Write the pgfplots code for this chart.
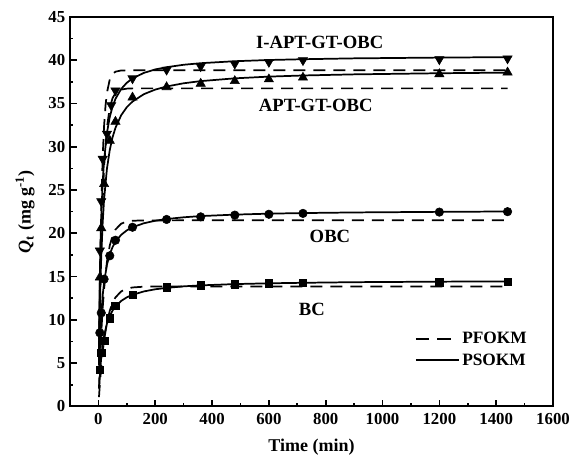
\documentclass[border=0pt]{standalone}
\usepackage{pgfplots}
\pgfplotsset{compat=1.18}
\usepackage{fontspec}
\setmainfont{Liberation Serif}
\begin{document}
\begin{tikzpicture}
\begin{axis}[
  scale only axis,
  width=362.25pt, height=292pt,
  xmin=-100, xmax=1600, ymin=0, ymax=45,
  xtick={0,200,...,1600}, ytick={0,5,...,45},
  minor x tick num=1, minor y tick num=1,
  tick align=inside, xtick pos=bottom, ytick pos=left,
  major tick length=5pt, minor tick length=2.5pt,
  axis line style={line width=1.4pt},
  every tick/.style={line width=1.2pt, black},
  /pgf/number format/assume math mode=true,
  /pgf/number format/set thousands separator={},
  ticklabel style={font=\fontsize{12.6}{14}\selectfont\bfseries},
  xticklabel style={yshift=-2pt},
  xlabel={\fontsize{13.5}{15}\selectfont\bfseries Time (min)},
  ylabel={\fontsize{13.5}{15}\selectfont\bfseries\textit{Q}\textsubscript{t} (mg g\textsuperscript{-1})},
  ylabel style={at={(axis description cs:-0.093,0.5)}, anchor=center},
  xlabel style={at={(axis description cs:0.5,-0.104)}, anchor=center},
  legend style={draw=none, fill=none, at={(0.96,0.205)}, anchor=north east,
    font=\fontsize{13}{15}\selectfont\bfseries, row sep=2pt},
  legend cell align=left,
  legend image code/.code={\draw[#1] (0pt,0pt) -- (32pt,0pt);},
  clip=false,
]
\addlegendimage{black, line width=1.4pt, dash pattern=on 10pt off 6pt}
\addlegendentry{PFOKM}
\addlegendimage{black, line width=1.4pt}
\addlegendentry{PSOKM}

% ---- PFOKM (dashed) ----
\addplot[black, line width=1.3pt, dash pattern=on 9pt off 6pt, forget plot] coordinates {
(2,6.40)(5,14.08)(10,23.05)(15,28.78)(20,32.43)(25,34.75)(30,36.24)(40,37.79)(50,38.42)(60,38.68)(80,38.82)(120,38.85)(400,38.85)(800,38.85)(1440,38.85)};
\addplot[black, line width=1.3pt, dash pattern=on 9pt off 6pt, forget plot] coordinates {
(2,4.80)(5,10.85)(10,18.50)(15,23.89)(20,27.69)(30,32.25)(40,34.52)(50,35.64)(60,36.20)(80,36.61)(100,36.72)(120,36.75)(400,36.75)(800,36.75)(1440,36.75)};
\addplot[black, line width=1.3pt, dash pattern=on 9pt off 6pt, forget plot] coordinates {
(2,2.05)(5,4.76)(10,8.46)(15,11.34)(20,13.59)(30,16.70)(40,18.59)(50,19.74)(60,20.43)(80,21.11)(100,21.36)(120,21.45)(160,21.49)(400,21.5)(800,21.5)(1440,21.5)};
\addplot[black, line width=1.3pt, dash pattern=on 9pt off 6pt, forget plot] coordinates {
(2,1.07)(5,2.51)(10,4.57)(15,6.25)(20,7.63)(30,9.68)(40,11.05)(50,11.98)(60,12.59)(80,13.28)(100,13.60)(120,13.74)(160,13.83)(200,13.85)(600,13.85)(1000,13.85)(1440,13.85)};

% ---- PSOKM (solid) ----
\addplot[black, line width=1.3pt, forget plot] coordinates {
(2,7.70)(4,12.94)(6,16.75)(8,19.63)(10,21.89)(15,25.86)(20,28.44)(30,31.60)(40,33.45)(50,34.67)(60,35.54)(80,36.68)(100,37.40)(120,37.90)(160,38.54)(200,38.94)(240,39.20)(300,39.48)(360,39.66)(480,39.89)(600,40.03)(720,40.12)(900,40.22)(1200,40.31)(1440,40.36)};
\addplot[black, line width=1.3pt, forget plot] coordinates {
(2,5.37)(4,9.43)(6,12.62)(8,15.18)(10,17.29)(15,21.22)(20,23.94)(30,27.46)(40,29.64)(50,31.12)(60,32.19)(80,33.64)(100,34.58)(120,35.23)(160,36.08)(200,36.61)(240,36.97)(300,37.34)(360,37.59)(480,37.91)(600,38.11)(720,38.24)(900,38.37)(1200,38.50)(1440,38.57)};
\addplot[black, line width=1.3pt, forget plot] coordinates {
(3,4.66)(4,5.81)(6,7.73)(8,9.25)(10,10.50)(15,12.79)(20,14.35)(30,16.36)(40,17.59)(50,18.42)(60,19.02)(80,19.82)(100,20.34)(120,20.70)(160,21.16)(200,21.45)(240,21.65)(300,21.85)(360,21.99)(480,22.16)(600,22.27)(720,22.34)(900,22.41)(1200,22.48)(1440,22.52)};
\addplot[black, line width=1.3pt, forget plot] coordinates {
(3,2.32)(4,2.94)(6,4.00)(8,4.89)(10,5.64)(15,7.09)(20,8.14)(30,9.55)(40,10.45)(50,11.08)(60,11.55)(80,12.18)(100,12.60)(120,12.89)(160,13.28)(200,13.53)(240,13.69)(300,13.87)(360,13.98)(480,14.13)(600,14.22)(720,14.28)(900,14.35)(1200,14.41)(1440,14.44)};

% ---- experimental data ----
\addplot[only marks, mark=triangle*, mark size=4pt, black, mark options={rotate=180}, forget plot] coordinates {
(5,18.0)(10,23.7)(15,28.6)(30,31.5)(45,34.8)(60,36.5)(120,37.9)(240,38.9)(360,39.3)(480,39.6)(600,39.8)(720,40.0)(1200,40.1)(1440,40.2)};
\addplot[only marks, mark=triangle*, mark size=4pt, black, forget plot] coordinates {
(5,14.9)(10,20.6)(20,25.7)(40,30.7)(60,32.9)(120,35.7)(240,36.9)(360,37.3)(480,37.6)(600,37.8)(720,38.0)(1200,38.4)(1440,38.6)};
\addplot[only marks, mark=*, mark size=3.2pt, black, forget plot] coordinates {
(5,8.5)(10,10.8)(20,14.7)(40,17.4)(60,19.2)(120,20.7)(240,21.6)(360,21.9)(480,22.1)(600,22.2)(720,22.3)(1200,22.45)(1440,22.5)};
\addplot[only marks, mark=square*, mark size=2.8pt, black, forget plot] coordinates {
(5,4.2)(10,6.2)(20,7.6)(40,10.2)(60,11.6)(120,12.9)(240,13.75)(360,14.0)(480,14.1)(600,14.2)(720,14.3)(1200,14.35)(1440,14.4)};

\node[font=\fontsize{14}{16}\selectfont\bfseries] at (axis cs:779,42.1) {I-APT-GT-OBC};
\node[font=\fontsize{14}{16}\selectfont\bfseries] at (axis cs:765,34.8) {APT-GT-OBC};
\node[font=\fontsize{14}{16}\selectfont\bfseries] at (axis cs:815,19.6) {OBC};
\node[font=\fontsize{14}{16}\selectfont\bfseries] at (axis cs:751,11.2) {BC};
\end{axis}
\pgfresetboundingbox
\path ([shift={(-52.5pt,-43.1pt)}]current axis.south west) rectangle ([shift={(21pt,12.75pt)}]current axis.north east);
\end{tikzpicture}
\end{document}
